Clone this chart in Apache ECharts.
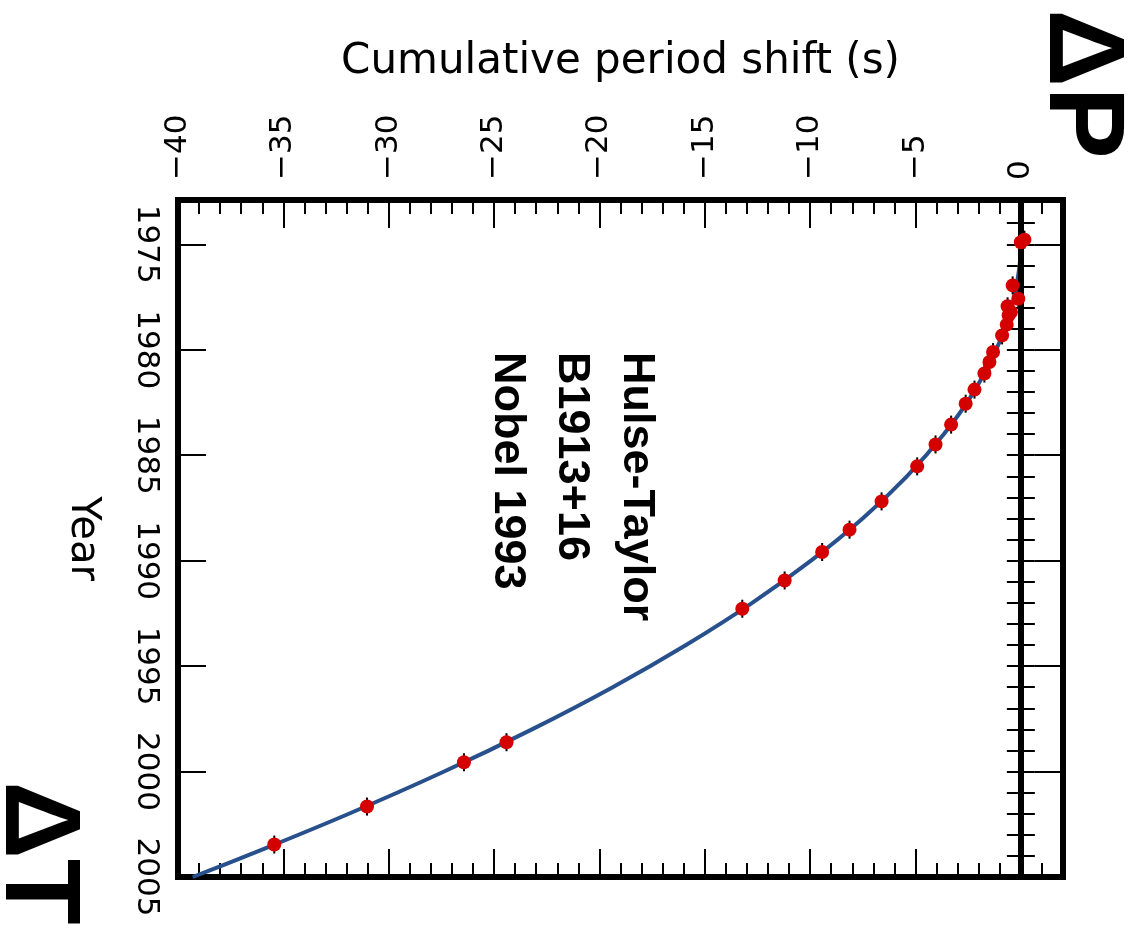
<!DOCTYPE html>
<html>
<head>
<meta charset="utf-8">
<script src="https://cdn.jsdelivr.net/npm/echarts@6/dist/echarts.min.js"></script>
<style>
  html, body { margin: 0; padding: 0; background: #fff; }
  #chart { width: 1136px; height: 940px; }
</style>
</head>
<body>
<div id="chart"></div>
<script>
// Timing measurements of PSR B1913+16: epoch (year) and cumulative periastron shift (s)
const obsYears = [1974.78, 1974.90, 1976.95, 1977.58, 1977.94, 1978.21, 1978.37, 1978.81,
                  1979.32, 1980.11, 1980.58, 1981.13, 1981.89, 1982.56, 1983.55, 1984.49,
                  1985.53, 1987.19, 1988.53, 1989.59, 1990.94, 1992.28, 1998.61, 1999.56,
                  2001.66, 2003.46];
const obsShift = [0.17, 0.00, -0.39, -0.12, -0.63, -0.47, -0.58, -0.67,
                  -0.89, -1.32, -1.49, -1.73, -2.20, -2.62, -3.31, -4.05,
                  -4.92, -6.61, -8.13, -9.43, -11.21, -13.22, -24.41, -26.43,
                  -31.03, -35.43];

// General-relativity prediction (gravitational-wave emission)
const curveYears = [1974.8, 1976, 1978, 1980, 1982, 1984, 1986, 1988, 1990,
                    1992, 1994, 1996, 1998, 2000, 2002, 2004, 2005];
const curveShift = [0, -0.06, -0.44, -1.17, -2.23, -3.65, -5.41, -7.51, -9.96,
                    -12.75, -15.89, -19.37, -23.20, -27.37, -31.89, -36.75, -39.30];

// Axis ticks
const shiftTicks = [-40, -35, -30, -25, -20, -15, -10, -5, 0];
const yearTicks = [1975, 1980, 1985, 1990, 1995, 2000, 2005];

const SHIFT_MIN = -40, SHIFT_MAX = 2;
const YEAR_MIN = 1972.9, YEAR_MAX = 2005;

function steps(a, b, s) {
  const out = [];
  for (let v = a; v <= b + 1e-9; v += s) out.push(+v.toFixed(6));
  return out;
}
const shiftMinor = steps(-40, 2, 1);
const yearMinor = steps(1973, 2005, 1);

const BLACK = '#000';
const FONT = 'DejaVu Sans';
const spine = { show: true, onZero: false, lineStyle: { color: BLACK, width: 6, cap: 'square' } };
const noSpine = { show: false };
const minusFmt = v => (v < 0 ? '\u2212' + (-v) : String(v));

function shiftAxis(pos, major, withLabels) {
  return {
    type: 'value', position: pos, min: SHIFT_MIN, max: SHIFT_MAX,
    axisLine: major ? spine : noSpine,
    splitLine: { show: false },
    axisTick: {
      show: true, inside: true, length: major ? 28 : 14,
      customValues: major ? shiftTicks : shiftMinor,
      lineStyle: { color: BLACK, width: 2 }
    },
    axisLabel: withLabels ? {
      show: true, customValues: shiftTicks, rotate: -90, margin: 20,
      fontSize: 31, fontFamily: FONT, color: BLACK, formatter: minusFmt
    } : { show: false },
    name: withLabels ? 'Cumulative period shift (s)' : '',
    nameLocation: 'middle', nameGap: 117,
    nameTextStyle: { fontSize: 42, fontFamily: FONT, color: BLACK }
  };
}

function yearAxis(pos, major, withLabels) {
  return {
    type: 'value', position: pos, min: YEAR_MIN, max: YEAR_MAX, inverse: true,
    axisLine: major ? spine : noSpine,
    splitLine: { show: false },
    axisTick: {
      show: true, inside: true, length: major ? 28 : 14,
      customValues: major ? yearTicks : yearMinor,
      lineStyle: { color: BLACK, width: 2 }
    },
    axisLabel: withLabels ? {
      show: true, customValues: yearTicks, rotate: -90, margin: 16,
      fontSize: 31, fontFamily: FONT, color: BLACK, formatter: v => String(v)
    } : { show: false },
    name: withLabels ? 'Year' : '',
    nameLocation: 'middle', nameGap: 76, nameRotate: -90,
    nameTextStyle: { fontSize: 40, fontFamily: FONT, color: BLACK }
  };
}

const chart = echarts.init(document.getElementById('chart'), null, { renderer: 'canvas' });

const obsPoints = obsShift.map((s, i) => [s, obsYears[i]]);
const curvePoints = curveShift.map((s, i) => [s, curveYears[i]]);

function rotText(text, x, y, size, family, align) {
  return {
    type: 'text', x: x, y: y, rotation: -Math.PI / 2, z: 100,
    style: {
      text: text, x: 0, y: 0, fill: BLACK,
      font: 'bold ' + size + 'px "' + family + '"',
      align: align, verticalAlign: 'middle'
    }
  };
}

chart.setOption({
  animation: false,
  backgroundColor: '#fff',
  grid: { left: 178, top: 200, right: 73, bottom: 63, containLabel: false },
  xAxis: [
    shiftAxis('top', true, true),
    shiftAxis('top', false, false),
    shiftAxis('bottom', true, false),
    shiftAxis('bottom', false, false)
  ],
  yAxis: [
    yearAxis('left', true, true),
    yearAxis('left', false, false),
    yearAxis('right', true, false),
    yearAxis('right', false, false)
  ],
  graphic: [
    rotText('Hulse-Taylor', 636, 352, 45, 'Liberation Sans', 'left'),
    rotText('B1913+16', 571, 352, 45, 'Liberation Sans', 'left'),
    rotText('Nobel 1993', 507, 352, 45, 'Liberation Sans', 'left'),
    rotText('\u0394P', 1080, 84, 108, 'Liberation Sans', 'center'),
    rotText('\u0394T', 36, 853, 108, 'Liberation Sans', 'center')
  ],
  series: [
    {
      name: 'GR prediction',
      type: 'line',
      xAxisIndex: 0, yAxisIndex: 0,
      data: curvePoints,
      smooth: 0.4,
      showSymbol: false,
      lineStyle: { color: '#28508c', width: 4 },
      z: 3,
      markLine: {
        silent: true,
        symbol: ['none', 'none'],
        label: { show: false },
        lineStyle: { color: BLACK, width: 6, type: 'solid' },
        data: [{ xAxis: 0 }]
      }
    },
    {
      name: 'error bars',
      type: 'custom',
      xAxisIndex: 0, yAxisIndex: 0,
      data: obsPoints,
      encode: { x: 0, y: 1 },
      z: 4,
      renderItem: function (params, api) {
        const p = api.coord([api.value(0), api.value(1)]);
        return {
          type: 'line',
          shape: { x1: p[0], y1: p[1] - 9, x2: p[0], y2: p[1] + 9 },
          style: { stroke: BLACK, lineWidth: 2 }
        };
      }
    },
    {
      name: 'measurements',
      type: 'scatter',
      xAxisIndex: 0, yAxisIndex: 0,
      data: obsPoints,
      symbol: 'circle',
      symbolSize: 14,
      itemStyle: { color: '#d40000', opacity: 1 },
      z: 5
    }
  ]
});
</script>
</body>
</html>
